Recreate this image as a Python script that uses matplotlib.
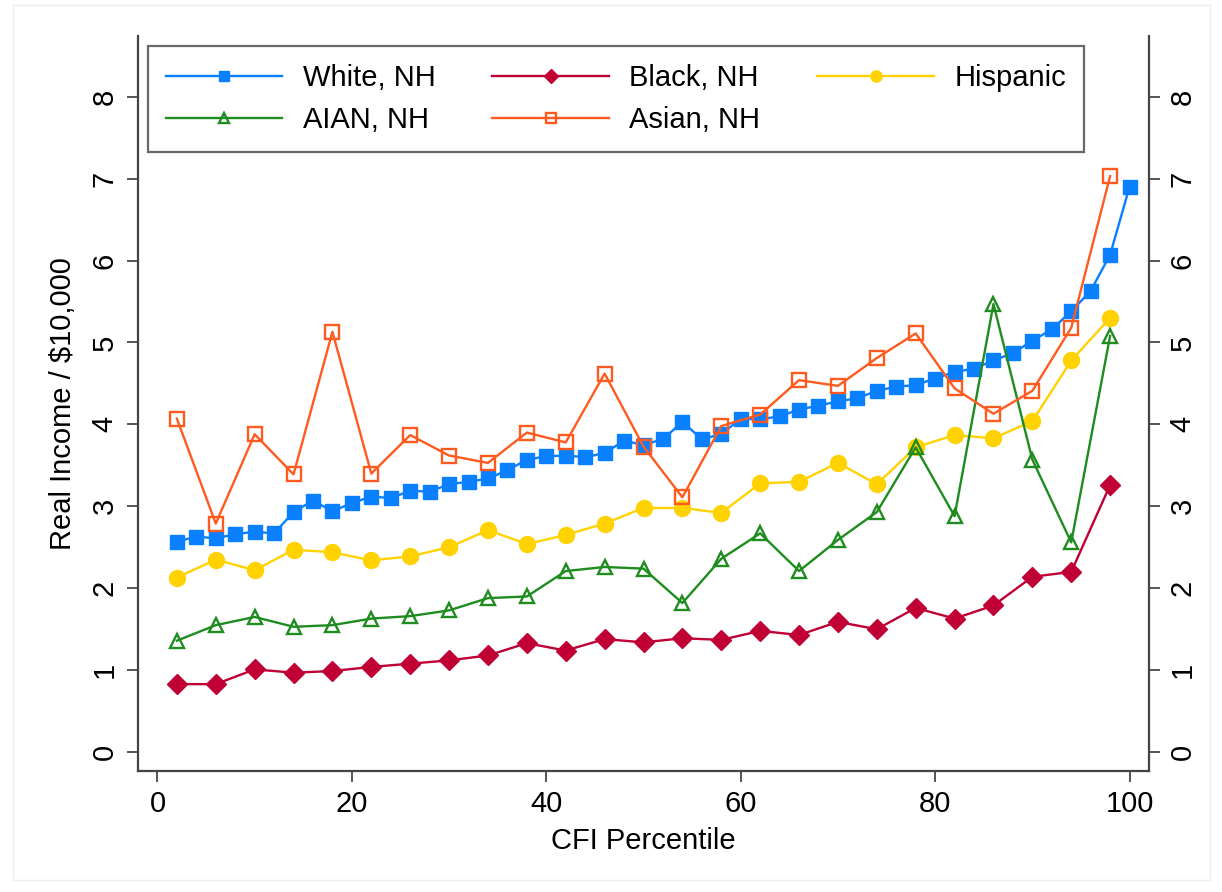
import matplotlib
matplotlib.use("Agg")
import matplotlib.pyplot as plt
from matplotlib.patches import Rectangle

plt.rcParams['font.family'] = ['Liberation Sans', 'DejaVu Sans']

# CFI percentile grids
pct_white = list(range(2, 101, 2))
pct_grp = list(range(2, 99, 4))

white = [2.57, 2.63, 2.61, 2.66, 2.69, 2.67, 2.93, 3.07, 2.94, 3.04,
         3.12, 3.10, 3.19, 3.18, 3.27, 3.30, 3.34, 3.44, 3.57, 3.61,
         3.62, 3.60, 3.65, 3.80, 3.75, 3.82, 4.03, 3.82, 3.88, 4.07,
         4.06, 4.10, 4.18, 4.23, 4.28, 4.32, 4.41, 4.46, 4.48, 4.56,
         4.64, 4.68, 4.78, 4.87, 5.02, 5.16, 5.38, 5.63, 6.07, 6.90]
black = [0.83, 0.83, 1.01, 0.97, 0.99, 1.04, 1.08, 1.12, 1.18, 1.33,
         1.24, 1.38, 1.34, 1.39, 1.37, 1.48, 1.43, 1.59, 1.50, 1.76,
         1.63, 1.79, 2.14, 2.20, 3.26]
hispanic = [2.13, 2.35, 2.22, 2.47, 2.44, 2.34, 2.39, 2.50, 2.71, 2.54,
            2.65, 2.79, 2.98, 2.98, 2.92, 3.28, 3.30, 3.53, 3.27, 3.72,
            3.87, 3.83, 4.04, 4.78, 5.30]
aian = [1.36, 1.55, 1.65, 1.53, 1.55, 1.63, 1.66, 1.73, 1.88, 1.90,
        2.21, 2.26, 2.24, 1.82, 2.36, 2.67, 2.21, 2.59, 2.93, 3.72,
        2.88, 5.47, 3.57, 2.56, 5.08]
asian = [4.07, 2.79, 3.88, 3.39, 5.13, 3.40, 3.87, 3.62, 3.53, 3.90,
         3.78, 4.62, 3.73, 3.11, 3.98, 4.12, 4.54, 4.47, 4.81, 5.11,
         4.44, 4.13, 4.41, 5.18, 7.03]

fig = plt.figure(figsize=(12.22, 8.92), dpi=100)
ax = fig.add_axes([138/1222, 121/892, 1011/1222, 735/892])

lw = 1.7
h_white, = ax.plot(pct_white, white, color='#0A80FF', lw=lw, marker='s', ms=10.5, label='White, NH')
h_black, = ax.plot(pct_grp, black, color='#C00035', lw=lw, marker='D', ms=10, label='Black, NH')
h_hisp, = ax.plot(pct_grp, hispanic, color='#FFD200', lw=lw, marker='o', ms=11.5, label='Hispanic')
h_aian, = ax.plot(pct_grp, aian, color='#1E8C1E', lw=lw, marker='^', ms=10, mfc='none', mew=1.7, label='AIAN, NH')
h_asian, = ax.plot(pct_grp, asian, color='#FF5A1F', lw=lw, marker='s', ms=9.5, mfc='none', mew=1.7, label='Asian, NH')

ax.set_xlim(-2, 102)
ax.set_ylim(-0.23, 8.74)
ax.set_xticks([0, 20, 40, 60, 80, 100])
ax.set_yticks(range(0, 9))

for s in ['left', 'right', 'bottom']:
    ax.spines[s].set_color('#444444')
    ax.spines[s].set_linewidth(1.6)
ax.spines['top'].set_visible(False)

ax.yaxis.set_ticks_position('both')
ax.tick_params(axis='both', direction='out', length=8, width=1.4, color='#555555',
               labelsize=21, pad=6)
ax.tick_params(axis='y', labelright=True, labelrotation=90)
for lab in ax.get_yticklabels():
    lab.set_va('center')

ax.set_xlabel('CFI Percentile', fontsize=21, labelpad=6)
ax.set_ylabel(r'Real Income / \$10,000', fontsize=21, labelpad=10)

leg = ax.legend(handles=[h_white, h_aian, h_black, h_asian, h_hisp], ncol=3,
                loc='upper left', bbox_to_anchor=(0.0099, 0.986), borderaxespad=0,
                fontsize=21, handlelength=4, markerscale=0.7, columnspacing=1.95,
                fancybox=False, frameon=True, edgecolor='#444444',
                borderpad=0.6, labelspacing=0.5, handletextpad=0.7)
leg.get_frame().set_linewidth(1.6)

# faint outer frame
fig.patches.append(Rectangle((13/1222, 12/892), 1197/1222, 875/892, transform=fig.transFigure,
                             fill=False, edgecolor='#eeeeee', lw=1))

fig.savefig('out.png', dpi=100, facecolor='white')
